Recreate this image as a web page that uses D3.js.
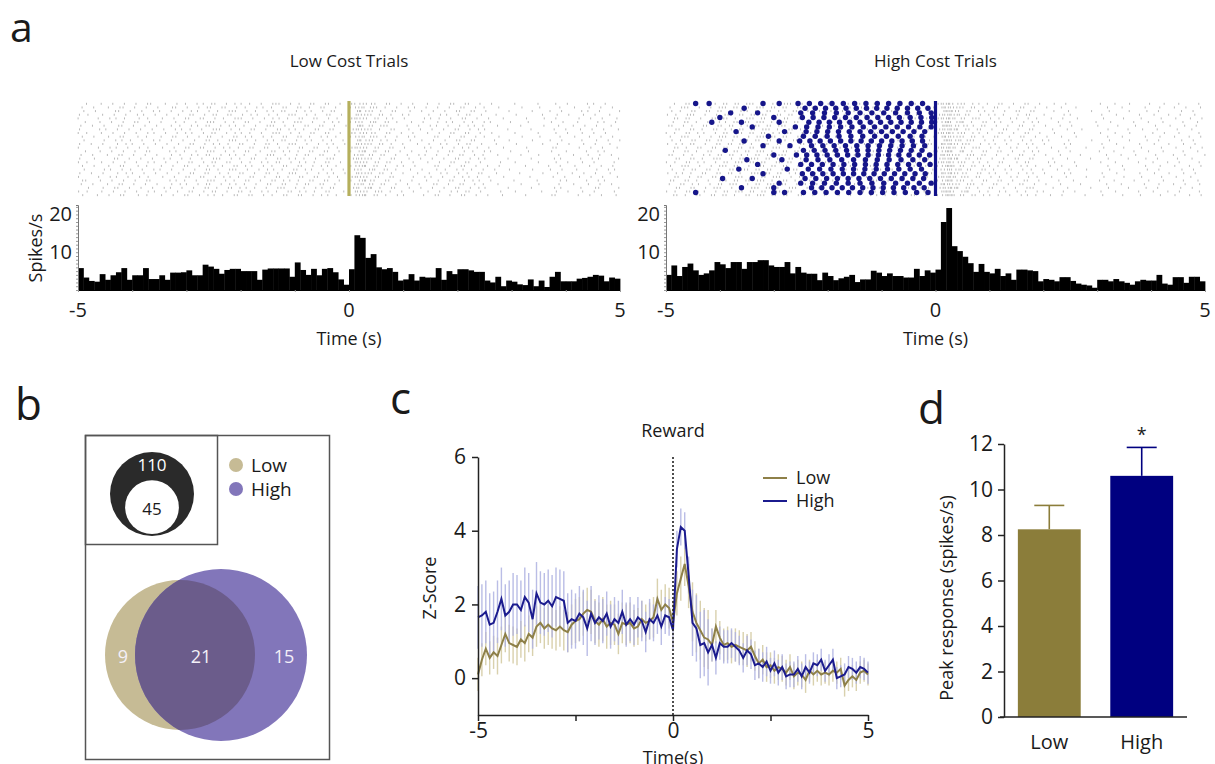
<!DOCTYPE html>
<html><head><meta charset="utf-8">
<script src="https://cdn.jsdelivr.net/npm/d3@7"></script>
<style>
body{margin:0;background:#fff}
svg{display:block}
text{font-family:"Open Sans",sans-serif;fill:#1a1a1a}
</style>
</head><body>
<svg id="fig" width="1215" height="764"></svg>
<script>
// ---------------- DATA ----------------
// Panel a: PSTH (spikes/s), 100 bins of 0.1 s from -5 to 5
const binStarts = d3.range(100).map(i => -5 + i / 10);
const lowCostRate = [
 5.8,3.3,2.4,2.2,4.2,2.7,3.9,4.7,5.8,2.7,
 3.9,3.9,5.8,2.9,2.9,3.9,2.7,4.6,4.6,4.7,
 5.2,3.9,3.9,6.7,6.2,5.6,4.3,5.3,5.6,5.6,
 5.0,5.0,5.0,2.7,5.4,5.7,5.7,5.7,5.7,3.5,
 7.3,5.3,4.0,5.6,3.9,5.6,5.8,4.7,2.8,1.4,
 5.5,14.5,13.8,8.5,9.5,6.0,5.5,5.8,4.8,2.5,
 2.8,4.2,2.5,3.5,3.3,3.3,5.8,2.7,5.0,4.2,
 5.5,5.5,5.2,4.8,4.8,2.5,2.0,3.5,1.0,2.5,
 2.2,1.5,1.3,2.8,1.0,2.5,0.8,3.5,4.8,2.3,
 2.3,2.3,3.0,3.2,3.5,4.0,3.8,2.3,3.3,3.0];
const highCostRate = [
 4.0,6.5,3.7,6.1,7.0,5.2,4.0,4.4,5.2,7.4,
 6.8,5.8,7.4,7.4,5.6,7.4,7.4,7.9,7.9,6.5,
 6.1,6.1,7.4,4.4,6.1,4.6,4.3,4.3,2.6,4.6,
 3.7,2.6,3.1,3.5,4.0,2.1,2.8,2.8,5.1,4.6,
 3.7,4.4,3.7,3.7,3.3,3.3,5.6,3.7,5.2,4.6,
 5.4,18.0,21.7,11.6,10.3,8.8,7.1,4.8,6.9,4.8,
 4.4,5.6,3.7,4.4,2.7,5.4,5.4,5.2,5.0,2.3,
 2.9,2.7,2.3,3.4,3.4,2.4,1.7,1.4,1.2,0.6,
 2.7,2.7,2.3,2.9,2.3,1.9,1.4,2.3,2.7,2.5,
 2.5,4.0,1.7,1.4,3.4,3.4,1.9,3.5,3.5,2.3];
const histYTickLabels = [10, 20];
const timeTickLabels = [-5, 0, 5];
// High-cost lever presses per trial: regular pressing start (s), press interval (s), early presses (s)
const pressStart = [-2.55,-2.42,-2.5,-2.47,-2.35,-2.6,-2.4,-2.45,-2.52,-2.3,-2.45,-2.58,-2.4,-2.5,-2.36,-2.47,-2.42,-2.5,-2.3,-2.45];
const pressGap   = [0.21,0.19,0.22,0.2,0.19,0.21,0.2,0.22,0.19,0.21,0.2,0.19,0.22,0.2,0.21,0.19,0.2,0.22,0.19,0.21];
const pressEarly = [[-4.45,-4.2,-3.2,-2.9],[-3.55],[-3.8,-3.3],[-4.0,-3.0],[-4.15,-3.6,-2.9],[-3.4],[-3.7,-2.8],[-3.1],[-3.55,-2.9],[-3.2,-2.7],
                    [-3.9],[-3.0],[-3.5,-2.85],[-3.3],[-3.65,-2.75],[-3.2],[-3.95,-3.4],[-2.9],[-3.6,-3.0],[-4.45,-3.0,-2.8]];

// Panel b: counts
const totalNeurons = 110, responsive = 45;
const vennLabels = ["9", "21", "15"];
const vennGroups = ["Low", "High"];

// Panel c: mean z-score, 0.1 s steps from -5 to 5
const zTimes = d3.range(101).map(i => -5 + i / 10);
const zLow = [
 0.1,0.5,0.8,0.55,0.7,0.6,0.9,1.2,0.95,0.9,
 0.85,1.05,0.95,1.2,1.1,1.4,1.5,1.35,1.45,1.35,
 1.3,1.4,1.3,1.25,1.45,1.55,1.6,1.75,1.85,1.8,
 1.55,1.45,1.6,1.4,1.5,1.45,1.2,1.5,1.45,1.5,
 1.35,1.4,1.6,1.5,1.55,1.65,2.15,1.85,2.0,1.9,
 1.5,2.3,2.7,3.1,2.5,1.8,1.5,1.3,1.1,1.05,
 0.9,1.4,1.1,0.9,0.95,0.85,0.9,0.85,0.8,0.75,
 0.85,0.6,0.4,0.5,0.3,0.35,0.2,0.3,0.25,0.15,
 0.3,0.05,0.15,0.1,-0.05,0.2,0.1,0.2,0.1,0.15,
 0.1,0.2,0.15,0.25,-0.2,-0.05,0.05,-0.05,0.15,0.2,
 0.1];
const zHigh = [
 1.65,1.7,1.8,1.45,1.5,1.8,2.15,1.7,1.8,2.0,
 2.0,1.85,2.2,2.05,1.6,2.3,2.05,2.0,2.1,1.95,
 2.2,2.15,2.1,1.5,1.6,1.55,1.75,1.65,1.35,1.75,
 1.5,1.65,1.55,1.75,1.4,1.6,1.5,1.8,1.45,1.6,
 1.45,1.65,1.55,1.25,1.6,1.5,1.7,1.4,1.7,1.65,
 1.3,3.5,4.1,4.0,2.8,1.5,1.35,0.9,0.95,0.7,
 0.9,0.55,0.95,0.85,0.85,0.95,0.85,0.75,0.55,0.75,
 0.65,0.35,0.4,0.3,0.45,0.2,0.4,0.15,0.3,0.05,
 0.1,0.1,0.25,0.05,0.3,0.15,0.4,0.35,0.5,0.2,
 0.35,0.5,0.0,0.05,0.1,0.3,0.25,0.15,0.3,0.25,
 0.15];
// SEM per half-second segment (21 segments)
const semLow  = [0.45,0.5,0.5,0.55,0.55,0.6,0.6,0.55,0.5,0.55,0.6,0.8,0.45,0.45,0.4,0.35,0.35,0.3,0.3,0.3,0.3];
const semHigh = [0.85,0.85,0.8,0.85,0.8,0.75,0.6,0.6,0.55,0.5,0.5,0.9,0.45,0.4,0.4,0.35,0.35,0.3,0.3,0.3,0.3];
const zYTicks = [0, 2, 4, 6];

// Panel d
const peakGroups = ["Low", "High"];
const peakMean = [8.25, 10.6];
const peakSem = [1.05, 1.25];
const peakYTicks = [0, 2, 4, 6, 8, 10, 12];

// ---------------- STYLE ----------------
const C = {
  tan: "#c6bb95", purple: "#8276ba", overlap: "#6b5c8b",
  olive: "#8b7d3a", navy: "#000080", oliveLine: "#8e8048", navyLine: "#1b1b8e",
  oliveErr: "#d3c99f", navyErr: "#aeb2e2", green: "#b5af5c"
};
const svg = d3.select("#fig");

function txt(g, x, y, s, size, anchor, extra) {
  const t = g.append("text").attr("x", x).attr("y", y).attr("font-size", size)
    .attr("text-anchor", anchor || "middle").text(s);
  if (extra) extra(t);
  return t;
}

// ---------------- PANEL A ----------------
txt(svg, 10, 42, "a", 41, "start");

function spikeTimes(rates, nRows, gain) {
  const out = [];
  for (let r = 0; r < nRows; r++) {
    let acc = (r * 0.6180339887) % 1;
    rates.forEach((rate, b) => {
      acc += rate * 0.1 * gain;
      let n = 0;
      while (acc >= 1) {
        acc -= 1;
        const f = (r * 0.7548776662 + b * 0.5698402910 + n * 0.381966) % 1;
        out.push({ row: r, t: binStarts[b] + 0.1 * f });
        n++;
      }
    });
  }
  return out;
}

function psthPanel(opt) {
  const g = svg.append("g");
  const x = d3.scaleLinear([-5, 5], [opt.x0, opt.x1]);
  const y = d3.scaleLinear([0, 22.5], [290, 205]);
  const nRows = 26;
  const row = d3.scaleBand(d3.range(nRows), [102, 197]);

  txt(g, x(0), 67, opt.title, 17);

  // raster
  g.append("g").selectAll("line").data(spikeTimes(opt.rates, nRows, 1.3)).join("line")
    .attr("x1", d => x(d.t)).attr("x2", d => x(d.t))
    .attr("y1", d => row(d.row) + 0.8).attr("y2", d => row(d.row) + 2.8)
    .attr("stroke", "#b9b9b9").attr("stroke-width", 1);

  if (opt.presses) {
    const prow = d3.scalePoint(d3.range(pressStart.length), [103.5, 192.5]);
    const dots = [];
    pressStart.forEach((s, i) => {
      pressEarly[i].forEach(t => dots.push({ r: i, t }));
      for (let t = s; t < -0.06; t += pressGap[i]) dots.push({ r: i, t });
    });
    g.append("g").selectAll("circle").data(dots).join("circle")
      .attr("cx", d => x(d.t)).attr("cy", d => prow(d.r)).attr("r", 2.7)
      .attr("fill", "#16168a");
  }
  g.append("line").attr("x1", x(0)).attr("x2", x(0)).attr("y1", 101).attr("y2", 196)
    .attr("stroke", opt.lineColor).attr("stroke-width", 3.2);

  // histogram
  g.append("g").selectAll("rect").data(opt.rates).join("rect")
    .attr("x", (d, i) => x(binStarts[i]))
    .attr("width", (d, i) => x(binStarts[i] + 0.1) - x(binStarts[i]) + 0.4)
    .attr("y", d => y(d)).attr("height", d => y(0) - y(d))
    .attr("fill", "#000");

  // y axis with fine ticks
  const ya = g.append("g").attr("transform", `translate(${opt.x0},0)`)
    .call(d3.axisLeft(y).tickValues(d3.range(0, 23, 1)).tickSize(2).tickFormat(""));
  ya.select(".domain").attr("stroke", "#777");
  ya.selectAll(".tick line").attr("stroke", "#999");
  histYTickLabels.forEach(v => txt(g, opt.x0 - 6, y(v) + 7, v, 20, "end"));

  // x axis
  const xa = g.append("g").attr("transform", `translate(0,290)`)
    .call(d3.axisBottom(x).tickValues(d3.range(-5, 6, 1)).tickSize(2).tickFormat(""));
  xa.select(".domain").attr("stroke", "#000");
  xa.selectAll(".tick line").attr("stroke", "#999");
  timeTickLabels.forEach(v => txt(g, x(v), 317, v, 20));
  txt(g, x(0), 345, "Time (s)", 18);
  if (opt.ylabel) txt(g, 0, 0, "Spikes/s", 18, "middle",
    t => t.attr("transform", "translate(42,248) rotate(-90)"));
}

psthPanel({ x0: 78, x1: 620, rates: lowCostRate, title: "Low Cost Trials", lineColor: C.green, ylabel: true });
psthPanel({ x0: 666, x1: 1205, rates: highCostRate, title: "High Cost Trials", lineColor: "#10108a", presses: true });

// ---------------- PANEL B ----------------
txt(svg, 15, 420, "b", 44, "start");
const gb = svg.append("g");
gb.append("rect").attr("x", 85.5).attr("y", 435.5).attr("width", 244).attr("height", 324)
  .attr("fill", "none").attr("stroke", "#555").attr("stroke-width", 1.5);
gb.append("rect").attr("x", 85.5).attr("y", 435.5).attr("width", 132).attr("height", 109)
  .attr("fill", "none").attr("stroke", "#555").attr("stroke-width", 1.5);
// nested circles (area-scaled)
const rOuter = 42, rInner = rOuter * Math.sqrt(responsive / totalNeurons);
gb.append("circle").attr("cx", 152).attr("cy", 494).attr("r", rOuter).attr("fill", "#2a2a2a");
gb.append("circle").attr("cx", 152).attr("cy", 534 - rInner).attr("r", rInner).attr("fill", "#fff");
txt(gb, 152, 471, totalNeurons, 17, "middle", t => t.style("fill", "#fff"));
txt(gb, 152, 515, responsive, 17);
// legend
[[C.tan, vennGroups[0], 465], [C.purple, vennGroups[1], 489]].forEach(([c, s, yy]) => {
  gb.append("circle").attr("cx", 236).attr("cy", yy).attr("r", 7).attr("fill", c);
  txt(gb, 251, yy + 7, s, 19, "start");
});
// venn
gb.append("defs").append("clipPath").attr("id", "lowClip")
  .append("circle").attr("cx", 180).attr("cy", 655).attr("r", 75);
gb.append("circle").attr("cx", 180).attr("cy", 655).attr("r", 75).attr("fill", C.tan);
gb.append("circle").attr("cx", 221).attr("cy", 655).attr("r", 86).attr("fill", C.purple);
gb.append("circle").attr("cx", 221).attr("cy", 655).attr("r", 86).attr("fill", C.overlap)
  .attr("clip-path", "url(#lowClip)");
[[123, vennLabels[0]], [201, vennLabels[1]], [284, vennLabels[2]]].forEach(([xx, s]) =>
  txt(gb, xx, 663, s, 18, "middle", t => t.style("fill", "#f4f0f8")));

// ---------------- PANEL C ----------------
txt(svg, 390, 414, "c", 44, "start");
const gc = svg.append("g");
const xc = d3.scaleLinear([-5, 5], [478, 868]);
const yc = d3.scaleLinear([-1, 6], [715, 457]);
txt(gc, xc(0), 437, "Reward", 18);
const seg = t => Math.min(20, Math.floor((t + 5) / 0.5 + 1e-6));
function errBars(vals, sem, color) {
  gc.append("g").selectAll("line").data(vals).join("line")
    .attr("x1", (d, i) => xc(zTimes[i])).attr("x2", (d, i) => xc(zTimes[i]))
    .attr("y1", (d, i) => yc(d - sem[seg(zTimes[i])])).attr("y2", (d, i) => yc(d + sem[seg(zTimes[i])]))
    .attr("stroke", color).attr("stroke-width", 1.4).attr("opacity", 0.85);
}
errBars(zLow, semLow, C.oliveErr);
errBars(zHigh, semHigh, C.navyErr);
const lineGen = d3.line().x((d, i) => xc(zTimes[i])).y(d => yc(d));
gc.append("path").datum(zLow).attr("d", lineGen).attr("fill", "none").attr("stroke", C.oliveLine).attr("stroke-width", 2);
gc.append("path").datum(zHigh).attr("d", lineGen).attr("fill", "none").attr("stroke", C.navyLine).attr("stroke-width", 2);
gc.append("line").attr("x1", xc(0)).attr("x2", xc(0)).attr("y1", yc(6)).attr("y2", yc(-1))
  .attr("stroke", "#222").attr("stroke-width", 1.6).attr("stroke-dasharray", "2,2");
const ycAx = gc.append("g").attr("transform", "translate(478,0)")
  .call(d3.axisLeft(yc).tickValues(zYTicks).tickSize(6).tickSizeOuter(0).tickPadding(6).tickFormat(d3.format("d")));
const xcAx = gc.append("g").attr("transform", "translate(0,715)")
  .call(d3.axisBottom(xc).tickValues([-5, -2.5, 0, 2.5, 5]).tickSize(6).tickSizeOuter(0).tickPadding(2)
    .tickFormat(d => timeTickLabels.includes(d) ? d : ""));
[ycAx, xcAx].forEach(a => {
  a.select(".domain").attr("stroke", "#222").attr("stroke-width", 1.5);
  a.selectAll(".tick line").attr("stroke", "#222").attr("stroke-width", 1.5);
  a.selectAll(".tick text").attr("font-size", 21).attr("font-family", '"Open Sans",sans-serif').style("fill", "#1a1a1a");
});
txt(gc, xc(0), 764, "Time(s)", 18);
txt(gc, 0, 0, "Z-Score", 18, "middle", t => t.attr("transform", "translate(436,588) rotate(-90)"));
[[C.oliveLine, "Low", 478], [C.navyLine, "High", 501]].forEach(([c, s, yy]) => {
  gc.append("line").attr("x1", 763).attr("x2", 787).attr("y1", yy).attr("y2", yy).attr("stroke", c).attr("stroke-width", 2);
  txt(gc, 796, yy + 6, s, 18, "start");
});

// ---------------- PANEL D ----------------
txt(svg, 918, 424, "d", 44, "start");
const gd = svg.append("g");
const xd = d3.scaleBand(peakGroups, [1004, 1187]).paddingInner(0.32).paddingOuter(0.15);
const yd = d3.scaleLinear([0, 12], [717, 444]);
const barFill = [C.olive, C.navy];
gd.selectAll("rect.bar").data(peakMean).join("rect").attr("class", "bar")
  .attr("x", (d, i) => xd(peakGroups[i])).attr("width", xd.bandwidth())
  .attr("y", d => yd(d)).attr("height", d => yd(0) - yd(d)).attr("fill", (d, i) => barFill[i]);
peakMean.forEach((m, i) => {
  const cx = xd(peakGroups[i]) + xd.bandwidth() / 2;
  gd.append("line").attr("x1", cx).attr("x2", cx).attr("y1", yd(m)).attr("y2", yd(m + peakSem[i]))
    .attr("stroke", barFill[i]).attr("stroke-width", 1.6);
  gd.append("line").attr("x1", cx - 15).attr("x2", cx + 15).attr("y1", yd(m + peakSem[i])).attr("y2", yd(m + peakSem[i]))
    .attr("stroke", barFill[i]).attr("stroke-width", 1.6);
});
txt(gd, xd("High") + xd.bandwidth() / 2, 441, "*", 18);
const ydAx = gd.append("g").attr("transform", "translate(1004,0)")
  .call(d3.axisLeft(yd).tickValues(peakYTicks).tickSize(6).tickSizeOuter(0).tickPadding(5));
ydAx.select(".domain").attr("stroke", "#222").attr("stroke-width", 1.5);
ydAx.selectAll(".tick line").attr("stroke", "#222").attr("stroke-width", 1.5);
ydAx.selectAll(".tick text").attr("font-size", 21).attr("font-family", '"Open Sans",sans-serif').style("fill", "#1a1a1a");
gd.append("line").attr("x1", 1000).attr("x2", 1187).attr("y1", 717).attr("y2", 717).attr("stroke", "#222").attr("stroke-width", 1.5);
peakGroups.forEach(gname => txt(gd, xd(gname) + xd.bandwidth() / 2, 749, gname, 20));
txt(gd, 0, 0, "Peak response (spikes/s)", 18, "middle", t => t.attr("transform", "translate(953,598) rotate(-90)"));
</script>
</body></html>
